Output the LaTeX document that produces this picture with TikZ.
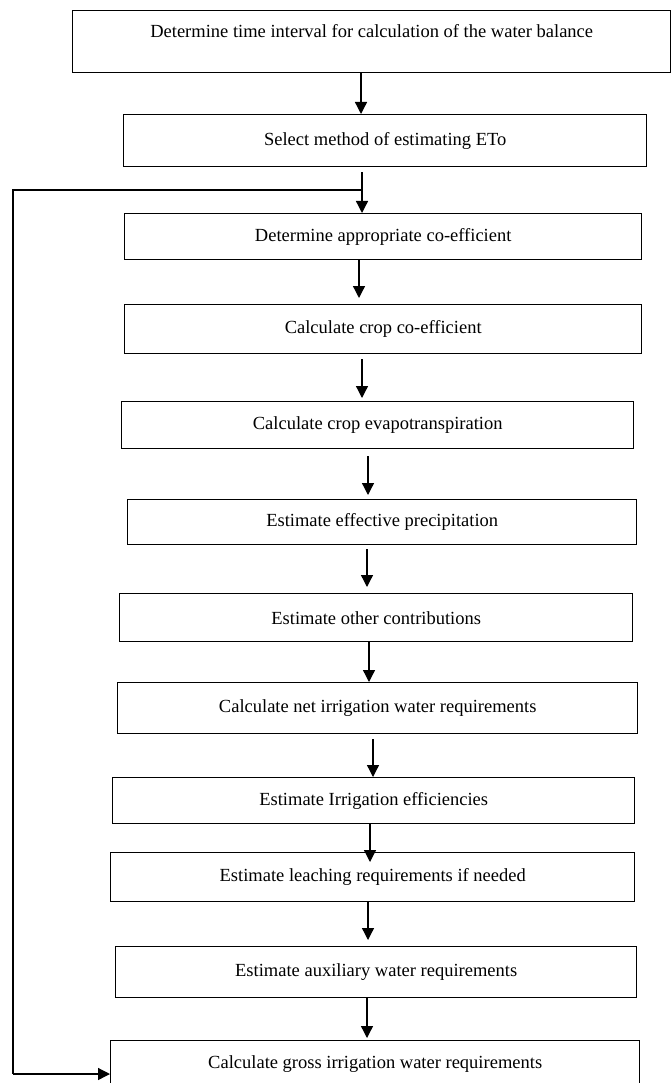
\documentclass[tikz,border=0pt]{standalone}
\usepackage{fontspec}
\setmainfont{Liberation Serif}
\usetikzlibrary{arrows.meta}

\begin{document}
\begin{tikzpicture}[x=1pt, y=-1pt,
  stage/.style={rectangle, draw, line width=1.4pt, anchor=north west, inner sep=0pt, align=center, font=\fontsize{18.5}{22}\selectfont},
  line/.style={-{Triangle[length=12pt,width=12pt]}, line width=1.3pt},
  feed/.style={line width=1.2pt}
]
\useasboundingbox (0,0) rectangle (671,1083);
\clip (0,0) rectangle (671,1083);

% Steps
\node[stage, minimum width=598pt, minimum height=62pt] (interval) at (72,10) {Determine time interval for calculation of the water balance\\ \mbox{}};
\node[stage, minimum width=523pt, minimum height=52pt] (method) at (123,114) {Select method of estimating ETo};
\node[stage, minimum width=517pt, minimum height=46pt] (approco) at (124,213) {Determine appropriate co-efficient};
\node[stage, minimum width=517pt, minimum height=49pt] (kc) at (124,304) {Calculate crop co-efficient};
\node[stage, minimum width=512pt, minimum height=47pt] (etc) at (121,401) {Calculate crop evapotranspiration};
\node[stage, minimum width=509pt, minimum height=45pt] (peff) at (127,499) {Estimate effective precipitation};
\node[stage, minimum width=513pt, minimum height=48pt] (other) at (119,593) {Estimate other contributions};
\node[stage, minimum width=520pt, minimum height=51pt] (netirr) at (117,682) {Calculate net irrigation water requirements};
\node[stage, minimum width=522pt, minimum height=46pt] (eff) at (112,777) {Estimate Irrigation efficiencies};
\node[stage, minimum width=524pt, minimum height=49pt] (leach) at (110,852) {Estimate leaching requirements if needed};
\node[stage, minimum width=521pt, minimum height=51pt] (aux) at (115,946) {Estimate auxiliary water requirements};
\node[stage, minimum width=529pt, minimum height=64pt] (gross) at (110,1040) {Calculate gross irrigation water requirements\\ \mbox{}};

% Arrows
\draw[line] (interval.south -| 361,0) -- (method.north -| 361,0);
\draw[line, shorten <=5pt] (method.south -| 362,0) -- (approco.north -| 362,0);
\draw[line, shorten >=6pt] (approco.south -| 359,0) -- (kc.north -| 359,0);
\draw[line, shorten <=5pt, shorten >=3pt] (kc.south -| 362,0) -- (etc.north -| 362,0);
\draw[line, shorten <=7pt, shorten >=4pt] (etc.south -| 368,0) -- (peff.north -| 368,0);
\draw[line, shorten <=4pt, shorten >=6pt] (peff.south -| 367,0) -- (other.north -| 367,0);
\draw[line] (other.south -| 369,0) -- (netirr.north -| 369,0);
\draw[line, shorten <=5pt] (netirr.south -| 373,0) -- (eff.north -| 373,0);
\draw[line, shorten >=-10pt] (eff.south -| 370,0) -- (leach.north -| 370,0);
\draw[line, shorten >=6pt] (leach.south -| 368,0) -- (aux.north -| 368,0);
\draw[line, shorten >=2pt] (aux.south -| 367,0) -- (gross.north -| 367,0);

% Loop back
\coordinate (fbjoin) at (362,190);
\coordinate (fbleft) at (13,190);
\coordinate (fbbottom) at (13,1074);
\draw[feed] (fbjoin) -- (fbleft) -- (fbbottom);
\draw[line] (fbbottom) -- (gross.west |- fbbottom);
\end{tikzpicture}
\end{document}
